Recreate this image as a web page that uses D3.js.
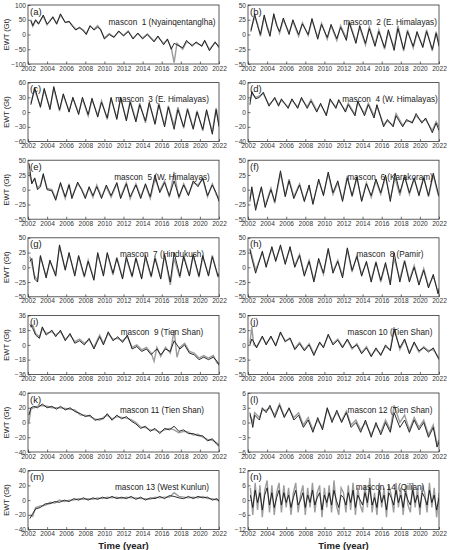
<!DOCTYPE html>
<html>
<head>
<meta charset="utf-8">
<script src="https://cdn.jsdelivr.net/npm/d3@7"></script>
<style>
  body { margin: 0; background: #fff; }
  svg text { font-family: "Liberation Sans", Arial, sans-serif; white-space: pre; }
</style>
</head>
<body>
<div id="chart"></div>
<script>
// ---- data: [year, black series, grey series] ----
const mascon1 = [[2002.3,47,50],[2002.5,30,28],[2002.8,50,48],[2003.1,35,38],[2003.6,66,62],[2004.0,35,33],[2004.3,45,48],[2004.6,60,58],[2005.0,35,38],[2005.4,70,66],[2005.9,40,42],[2006.3,45,43],[2006.6,30,33],[2007.0,15,18],[2007.4,25,22],[2007.8,12,15],[2008.1,0,3],[2008.5,30,28],[2008.9,15,18],[2009.3,25,30],[2009.6,18,15],[2010.0,-15,-12],[2010.5,0,3],[2011.0,-10,-8],[2011.5,12,10],[2012.0,-5,-3],[2012.5,10,12],[2013.0,-15,-13],[2013.5,5,3],[2014.0,-15,-12],[2014.5,0,2],[2015.2,-25,-22],[2015.6,-5,-8],[2016.2,-35,-30],[2016.6,-15,-18],[2017.0,-50,-45],[2017.3,-30,-95],[2017.6,-35,-30],[2018.2,-45,-50],[2018.6,-20,-25],[2019.2,-40,-35],[2019.6,-25,-28],[2020.2,-40,-38],[2020.5,-20,-22],[2021.0,-55,-50],[2021.6,-25,-28],[2022.0,-45,-40]];
const mascon2 = [[2002.3,5,8],[2002.7,35,30],[2003.0,15,18],[2003.3,0,-3],[2003.7,33,30],[2004.0,12,15],[2004.3,-3,0],[2004.7,35,33],[2005.0,15,18],[2005.3,5,2],[2005.7,28,25],[2006.3,0,3],[2006.7,25,22],[2007.3,0,-3],[2007.7,18,20],[2008.3,0,-2],[2008.7,27,24],[2009.3,-8,-5],[2009.7,17,19],[2010.3,-5,-8],[2010.7,17,15],[2011.3,-7,-10],[2011.7,12,15],[2012.3,-10,-7],[2012.6,20,22],[2013.3,-15,-12],[2013.7,15,12],[2014.3,-15,-18],[2014.7,10,13],[2015.3,-20,-17],[2015.7,5,8],[2016.3,-22,-25],[2016.7,8,5],[2017.3,-27,-22],[2017.7,10,15],[2018.3,-25,-28],[2018.7,5,8],[2019.3,-20,-23],[2019.7,5,2],[2020.3,-22,-20],[2020.7,5,8],[2021.3,-25,-28],[2021.7,2,5],[2022.0,-20,-15]];
const mascon3 = [[2002.3,15,18],[2002.7,50,45],[2003.3,10,12],[2003.7,48,45],[2004.3,5,8],[2004.7,52,48],[2005.3,5,2],[2005.7,37,35],[2006.3,0,3],[2006.7,30,28],[2007.3,-5,-2],[2007.7,30,27],[2008.3,-5,-8],[2008.7,28,25],[2009.3,-10,-7],[2009.7,20,23],[2010.3,-12,-15],[2010.7,30,27],[2011.3,-15,-12],[2011.7,30,28],[2012.3,-18,-15],[2012.7,20,23],[2013.3,-20,-17],[2013.7,15,18],[2014.3,-18,-22],[2014.7,20,17],[2015.3,-25,-22],[2015.7,15,18],[2016.3,-30,-27],[2016.7,10,13],[2017.3,-35,-28],[2017.7,5,10],[2018.3,-30,-33],[2018.7,5,8],[2019.3,-35,-32],[2019.7,0,3],[2020.3,-35,-38],[2020.7,5,2],[2021.3,-45,-40],[2021.7,5,8],[2022.0,-30,-25]];
const mascon4 = [[2002.2,10,15],[2002.4,28,25],[2002.8,18,20],[2003.2,20,22],[2003.6,27,25],[2004.2,8,10],[2004.8,20,18],[2005.2,8,10],[2005.5,18,16],[2006.2,5,7],[2006.6,18,16],[2007.2,5,7],[2007.6,20,18],[2008.2,5,7],[2008.6,15,17],[2009.2,0,2],[2009.6,12,10],[2010.2,-5,-3],[2010.6,18,16],[2011.2,5,7],[2011.5,17,15],[2012.2,0,2],[2012.5,10,12],[2013.2,-5,-3],[2013.5,15,13],[2014.2,-5,-2],[2014.6,10,12],[2015.2,-8,-5],[2015.5,10,8],[2016.2,-20,-17],[2016.6,-10,-12],[2017.2,-20,-18],[2017.5,-5,-2],[2018.2,-20,-18],[2018.6,-10,-12],[2019.2,-15,-13],[2019.6,-2,-5],[2020.2,-15,-13],[2020.6,-8,-10],[2021.3,-28,-25],[2021.7,-15,-13],[2022.0,-25,-20]];
const mascon5 = [[2002.1,45,30],[2002.4,10,12],[2002.7,20,18],[2003.0,0,3],[2003.3,5,8],[2003.6,27,25],[2004.0,0,2],[2004.5,-2,0],[2004.9,-18,-15],[2005.4,12,10],[2005.9,-12,-15],[2006.3,8,10],[2006.6,-15,-12],[2007.2,13,10],[2007.6,0,2],[2008.0,-15,-12],[2008.4,5,3],[2008.8,-10,-13],[2009.2,5,8],[2009.7,-15,-12],[2010.2,8,5],[2010.7,-10,-13],[2011.3,12,10],[2011.7,-15,-12],[2012.3,10,12],[2012.7,-12,-15],[2013.3,8,10],[2013.8,-15,-12],[2014.3,10,8],[2014.8,-12,-15],[2015.3,25,18],[2015.8,-5,-2],[2016.3,12,15],[2016.8,-10,-13],[2017.3,15,30],[2017.8,-12,-15],[2018.3,8,10],[2018.8,-10,-8],[2019.3,15,12],[2019.8,5,8],[2020.3,20,18],[2020.8,-10,-12],[2021.3,8,10],[2021.7,-5,-8],[2022.0,-20,-15]];
const mascon6 = [[2002.2,-20,-15],[2002.4,5,0],[2002.8,-35,-30],[2003.4,5,3],[2003.8,-30,-27],[2004.4,0,3],[2004.8,-20,-23],[2005.4,32,28],[2005.9,-12,-10],[2006.3,15,18],[2006.8,-15,-12],[2007.4,8,10],[2007.9,-20,-18],[2008.4,8,5],[2008.8,-25,-22],[2009.4,18,15],[2009.9,-10,-8],[2010.4,30,27],[2010.9,-5,-8],[2011.4,15,12],[2011.9,-20,-17],[2012.4,20,23],[2012.9,-10,-12],[2013.4,22,20],[2013.9,-20,-18],[2014.4,10,12],[2014.9,-10,-13],[2015.4,18,15],[2015.9,-5,-8],[2016.4,25,22],[2016.9,-20,-15],[2017.4,28,20],[2017.9,-5,-10],[2018.4,22,25],[2018.9,-5,-8],[2019.4,20,18],[2019.9,-10,-8],[2020.4,20,22],[2020.9,-10,-12],[2021.4,28,25],[2021.9,-5,-8],[2022.0,-10,-12]];
const mascon7 = [[2002.2,10,18],[2002.4,15,5],[2002.7,-20,-15],[2003.0,-25,-22],[2003.3,20,18],[2003.9,-18,-15],[2004.3,12,10],[2004.9,-15,-12],[2005.3,38,35],[2005.9,-5,-3],[2006.3,25,22],[2006.9,-15,-12],[2007.3,20,18],[2007.9,-15,-17],[2008.3,10,12],[2008.9,-22,-20],[2009.3,25,22],[2009.9,-15,-12],[2010.3,25,23],[2010.9,-10,-13],[2011.3,15,17],[2011.9,-20,-18],[2012.3,18,15],[2012.9,-15,-17],[2013.3,15,17],[2013.9,-20,-18],[2014.3,20,17],[2014.9,-15,-17],[2015.3,15,18],[2015.9,-20,-18],[2016.3,22,20],[2016.9,-25,-30],[2017.3,25,15],[2017.9,-15,-18],[2018.3,18,20],[2018.9,-15,-13],[2019.3,22,20],[2019.9,-15,-17],[2020.3,20,18],[2020.9,-15,-13],[2021.3,18,20],[2021.9,-15,-17],[2022.0,-12,-10]];
const mascon8 = [[2002.2,30,32],[2002.4,15,20],[2002.8,-10,-5],[2003.5,27,25],[2003.9,0,3],[2004.5,35,32],[2004.9,10,12],[2005.4,38,35],[2005.9,5,8],[2006.4,35,32],[2006.9,0,3],[2007.4,20,22],[2007.9,-15,-12],[2008.4,10,12],[2008.9,-25,-22],[2009.4,15,12],[2009.9,-10,-12],[2010.4,32,30],[2010.9,-10,-7],[2011.4,10,12],[2011.9,-18,-15],[2012.4,33,30],[2012.9,-5,-8],[2013.4,18,20],[2013.9,-15,-12],[2014.4,10,8],[2014.9,-25,-22],[2015.4,8,10],[2015.9,-22,-25],[2016.4,8,5],[2016.9,-30,-25],[2017.3,25,15],[2017.9,-25,-20],[2018.4,10,12],[2018.9,-25,-22],[2019.4,0,3],[2019.9,-30,-28],[2020.4,-5,-2],[2020.9,-35,-32],[2021.4,-12,-15],[2021.9,-45,-42],[2022.0,-38,-35]];
const mascon9 = [[2002.2,25,22],[2002.5,20,24],[2002.8,12,14],[2003.2,8,10],[2003.5,22,20],[2003.9,12,14],[2004.5,18,16],[2004.9,10,12],[2005.4,18,16],[2005.9,5,7],[2006.4,14,12],[2006.9,2,4],[2007.4,5,7],[2007.9,0,2],[2008.4,8,6],[2008.9,-5,-3],[2009.5,10,12],[2009.9,0,2],[2010.4,16,14],[2010.9,5,7],[2011.4,10,8],[2011.9,3,5],[2012.4,12,10],[2012.9,-5,-3],[2013.4,-2,0],[2013.9,-8,-6],[2014.4,-5,-3],[2014.9,-12,-10],[2015.2,-8,-20],[2015.5,-5,-3],[2015.9,-12,-14],[2016.4,-5,-3],[2016.9,-8,-10],[2017.3,5,18],[2017.6,0,-15],[2017.9,-5,-3],[2018.4,0,2],[2018.9,-10,-8],[2019.4,-12,-10],[2019.9,-18,-16],[2020.4,-15,-13],[2020.9,-18,-16],[2021.4,-15,-13],[2021.8,-20,-22],[2022.0,-25,-22]];
const mascon10 = [[2002.2,0,3],[2002.4,10,30],[2002.6,5,0],[2002.9,-5,-3],[2003.5,15,13],[2003.9,0,2],[2004.4,15,13],[2004.9,-2,0],[2005.4,22,20],[2005.9,5,7],[2006.4,12,10],[2006.9,-8,-6],[2007.4,2,4],[2007.9,-10,-8],[2008.4,0,2],[2008.9,-18,-15],[2009.5,5,3],[2009.9,-5,-3],[2010.4,18,16],[2010.9,0,2],[2011.4,8,10],[2011.9,-5,-3],[2012.4,10,8],[2012.9,-5,-7],[2013.4,0,2],[2013.9,-15,-13],[2014.4,-5,-3],[2014.9,-20,-18],[2015.4,-5,-8],[2015.9,-18,-16],[2016.4,0,-3],[2016.9,-10,-8],[2017.3,25,30],[2017.9,-5,-8],[2018.4,10,8],[2018.9,-15,-13],[2019.4,5,3],[2019.9,-10,-12],[2020.4,-5,-3],[2020.9,-12,-10],[2021.4,-5,-8],[2021.9,-22,-20],[2022.0,-25,-22]];
const mascon11 = [[2002.1,10,0],[2002.3,20,18],[2002.6,22,20],[2003.0,20,22],[2003.5,25,23],[2004.0,20,22],[2004.5,22,20],[2005.0,18,20],[2005.4,22,20],[2005.9,17,19],[2006.4,20,18],[2006.9,15,17],[2007.5,12,10],[2008.0,8,10],[2008.5,10,8],[2009.0,3,5],[2009.5,5,3],[2009.9,5,7],[2010.3,12,10],[2010.8,3,5],[2011.3,10,8],[2011.8,5,7],[2012.3,8,6],[2012.8,2,4],[2013.3,-2,0],[2013.8,-8,-6],[2014.3,-5,-7],[2014.8,-12,-10],[2015.3,-8,-10],[2015.8,-15,-13],[2016.3,-8,-10],[2016.8,-10,-8],[2017.3,-5,-10],[2017.8,-12,-14],[2018.3,-10,-12],[2018.8,-15,-13],[2019.3,-15,-17],[2019.8,-18,-16],[2020.3,-18,-20],[2020.8,-25,-23],[2021.3,-22,-24],[2021.8,-30,-28],[2022.0,-32,-30]];
const mascon12 = [[2002.2,2,1.5],[2002.5,-1,0],[2002.7,1.5,2],[2003.2,0.5,1],[2003.5,3,2.5],[2003.9,2,2.5],[2004.3,3.5,3],[2004.8,1,1.5],[2005.3,3.5,3.8],[2005.8,1,1.3],[2006.3,3,2.7],[2006.8,0.5,1],[2007.3,1.5,2],[2007.8,-1,-0.5],[2008.3,0.5,1],[2008.8,-2,-1.5],[2009.3,1,0.5],[2009.8,-1.5,-1],[2010.3,3,2.7],[2010.8,0,0.5],[2011.3,2.5,2],[2011.8,0,0.3],[2012.3,2,2.3],[2012.8,-1,-0.5],[2013.3,0,0.5],[2013.8,-2,-1.5],[2014.3,0.5,0],[2014.9,-3,-2.5],[2015.4,0,-0.5],[2015.9,-2.5,-2],[2016.4,0,0.5],[2016.9,-2,-1.5],[2017.3,2,3.5],[2017.9,-1,0],[2018.4,0.5,1.5],[2018.9,-2,-1.5],[2019.4,0.5,1],[2019.9,-1.5,-1],[2020.4,0,0.5],[2020.9,-3,-2.5],[2021.4,-1,-0.5],[2021.8,-5,-4.5],[2022.0,-4,-3.5]];
const mascon13 = [[2002.2,-25,-20],[2002.5,-18,-22],[2002.8,-12,-10],[2003.3,-10,-8],[2003.8,-5,-7],[2004.3,-5,-3],[2004.8,-2,-4],[2005.3,-3,0],[2005.8,0,-2],[2006.3,-2,0],[2006.8,2,0],[2007.3,0,2],[2007.8,3,1],[2008.3,0,2],[2008.8,3,1],[2009.3,1,3],[2009.8,4,2],[2010.3,2,4],[2010.8,5,3],[2011.3,2,4],[2011.8,4,2],[2012.3,2,4],[2012.8,5,3],[2013.3,1,3],[2013.8,4,2],[2014.3,0,2],[2014.8,3,1],[2015.3,2,4],[2015.8,5,3],[2016.3,2,4],[2016.8,6,4],[2017.3,5,10],[2017.8,3,5],[2018.3,2,4],[2018.8,5,3],[2019.3,2,4],[2019.8,5,3],[2020.3,3,5],[2020.8,4,2],[2021.3,0,2],[2021.8,2,0],[2022.0,-2,0]];
const mascon14 = [[2002.25,2,5],[2002.5,-3,-6],[2002.75,4,7],[2003.0,-1,-4],[2003.25,3,6],[2003.5,-4,-7],[2003.75,2,4],[2004.0,5,8],[2004.25,-2,-5],[2004.5,3,6],[2004.75,-3,-6],[2005.0,1,3],[2005.25,4,7],[2005.5,-2,-5],[2005.75,3,6],[2006.0,-1,-3],[2006.25,2,5],[2006.5,-3,-6],[2006.75,1,3],[2007.0,4,7],[2007.25,-2,-5],[2007.5,0,2],[2007.75,3,6],[2008.0,-3,-6],[2008.25,2,5],[2008.5,-1,-3],[2008.75,4,7],[2009.0,-2,-5],[2009.25,1,3],[2009.5,3,6],[2009.75,-4,-7],[2010.0,2,5],[2010.25,-1,-3],[2010.5,3,6],[2010.75,-2,-5],[2011.0,4,8],[2011.25,0,-2],[2011.5,-3,-6],[2011.75,2,5],[2012.0,1,3],[2012.25,-2,-5],[2012.5,3,6],[2012.75,-1,-4],[2013.0,4,7],[2013.25,-3,-6],[2013.5,2,5],[2013.75,0,-2],[2014.0,-2,-5],[2014.25,3,6],[2014.5,-1,-3],[2014.75,5,9],[2015.0,-2,-5],[2015.25,1,3],[2015.5,-3,-6],[2015.75,4,7],[2016.0,-1,-3],[2016.25,2,5],[2016.5,-4,-7],[2016.75,3,6],[2017.0,1,2],[2017.25,-2,-5],[2017.5,4,7],[2017.75,-1,-3],[2018.0,2,5],[2018.25,-3,-6],[2018.5,3,6],[2018.75,0,-2],[2019.0,-2,-5],[2019.25,4,7],[2019.5,-1,-3],[2019.75,2,5],[2020.0,-3,-6],[2020.25,3,6],[2020.5,1,3],[2020.75,-2,-5],[2021.0,4,7],[2021.25,-1,-3],[2021.5,2,5],[2021.75,-4,-7],[2022.0,1,3]];

const mascons = [mascon1, mascon2, mascon3, mascon4, mascon5, mascon6, mascon7,
                 mascon8, mascon9, mascon10, mascon11, mascon12, mascon13, mascon14];

const masconNames = ["mascon  1 (Nyainqentanglha)", "mascon  2 (E. Himalayas)", "mascon  3 (E. Himalayas)",
  "mascon  4 (W. Himalayas)", "mascon  5 (W. Himalayas)", "mascon  6 (Karakoram)", "mascon  7 (Hindukush)",
  "mascon  8 (Pamir)", "mascon  9 (Tien Shan)", "mascon 10 (Tien Shan)", "mascon 11 (Tien Shan)",
  "mascon 12 (Tien Shan)", "mascon 13 (West Kunlun)", "mascon 14 (Qilian)"];
const panelLetters = ["(a)","(b)","(c)","(d)","(e)","(f)","(g)","(h)","(i)","(j)","(k)","(l)","(m)","(n)"];

const yTickLabels = [
  [-100,-50,0,50,100], [-50,-25,0,25,50], [-60,-30,0,30,60], [-40,-20,0,20,40],
  [-50,-25,0,25,50], [-50,-25,0,25,50], [-50,-25,0,25,50], [-50,-25,0,25,50],
  [-36,-18,0,18,36], [-50,-25,0,25,50], [-40,-20,0,20,40], [-6,-3,0,3,6],
  [-40,-20,0,20,40], [-12,-6,0,6,12]
];
const xTickLabels = [2002,2004,2006,2008,2010,2012,2014,2016,2018,2020,2022];

// ---- layout ----
const W = 451, H = 550;
const colLeft = [28, 248];
const plotW = 191;
const rowTop = 5, rowStep = 77.6, plotH = 59;

const svg = d3.select("#chart")
    .append("svg")
    .attr("width", W)
    .attr("height", H);

const x = d3.scaleLinear().domain([2002, 2022]);

mascons.forEach((data, i) => {
    const col = i % 2, row = Math.floor(i / 2);
    const left = colLeft[col], top = rowTop + row * rowStep;
    const ticks = yTickLabels[i];

    const xs = x.copy().range([0, plotW]);
    const ys = d3.scaleLinear()
        .domain([ticks[0], ticks[ticks.length - 1]])
        .range([plotH, 0]);

    const g = svg.append("g").attr("transform", `translate(${left},${top})`);

    g.append("clipPath").attr("id", "clip" + i)
      .append("rect").attr("width", plotW).attr("height", plotH);

    // grey series under, black on top
    const grey = d3.line().x(d => xs(d[0])).y(d => ys(d[2]));
    const black = d3.line().x(d => xs(d[0])).y(d => ys(d[1]));

    const lines = g.append("g").attr("clip-path", `url(#clip${i})`);
    lines.append("path").datum(data)
        .attr("d", grey)
        .attr("fill", "none")
        .attr("stroke", "#9c9c9c")
        .attr("stroke-width", 1.4);
    lines.append("path").datum(data)
        .attr("d", black)
        .attr("fill", "none")
        .attr("stroke", "#151515")
        .attr("stroke-width", 0.9);

    // axes
    const xAxis = d3.axisBottom(xs).tickValues(xTickLabels).tickFormat(d3.format("d"))
        .tickSizeInner(-2.5).tickSizeOuter(0).tickPadding(2);
    const yAxis = d3.axisLeft(ys).tickValues(ticks)
        .tickSizeInner(-2.5).tickSizeOuter(0).tickPadding(2);

    g.append("g").attr("transform", `translate(0,${plotH})`).call(xAxis);
    g.append("g").call(yAxis);

    g.selectAll(".domain").remove();
    g.selectAll(".tick line").attr("stroke", "#333").attr("stroke-width", 0.7);
    g.selectAll(".tick text").attr("font-size", 6.6).attr("fill", "#333")
        .attr("font-family", "Liberation Sans, Arial, sans-serif");

    // frame
    g.append("rect")
        .attr("width", plotW).attr("height", plotH)
        .attr("fill", "none").attr("stroke", "#333").attr("stroke-width", 0.8);

    g.append("text")
        .attr("x", 2).attr("y", 9.5)
        .attr("font-size", 9.5).attr("fill", "#222")
        .text(panelLetters[i]);

    g.append("text")
        .attr("x", col === 0 ? 134 : 142).attr("y", 19.5)
        .attr("text-anchor", "middle")
        .attr("font-size", 8.2).attr("fill", "#222")
        .text(masconNames[i]);

    if (col === 0) {
        g.append("text")
            .attr("transform", `translate(${-19},${plotH / 2}) rotate(-90)`)
            .attr("text-anchor", "middle")
            .attr("font-size", 7.5).attr("fill", "#222")
            .text("EWT (Gt)");
    }
});

// bottom axis titles
colLeft.forEach(left => {
    svg.append("text")
        .attr("x", left + plotW / 2).attr("y", 549)
        .attr("text-anchor", "middle")
        .attr("font-size", 9.5).attr("font-weight", "bold").attr("fill", "#222")
        .text("Time (year)");
});
</script>
</body>
</html>
